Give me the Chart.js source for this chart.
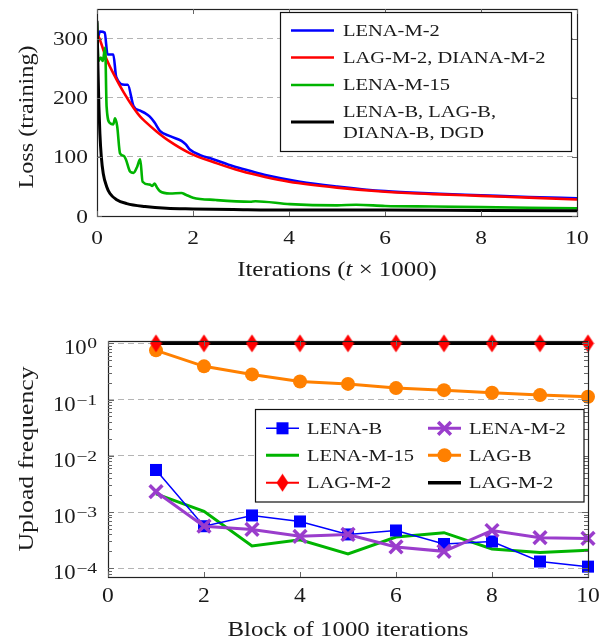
<!DOCTYPE html>
<html>
<head>
<meta charset="utf-8">
<script src="https://cdn.jsdelivr.net/npm/chart.js@4.4.0/dist/chart.umd.min.js"></script>
<style>
  html, body { margin: 0; padding: 0; background: #fff; }
  #lossChart { position: absolute; left: 0; top: 0; }
  #freqChart { position: absolute; left: 0; top: 290px; }
</style>
</head>
<body>
<canvas id="lossChart" width="602" height="290"></canvas>
<canvas id="freqChart" width="602" height="351"></canvas>
<script>
// ---------- top chart: training loss ----------
const lossTicksX = [0, 2, 4, 6, 8, 10];
const lossTicksY = [0, 100, 200, 300];

const lossLabels = ['LENA-M-2', 'LAG-M-2, DIANA-M-2', 'LENA-M-15', 'LENA-B, LAG-B,\nDIANA-B, DGD'];

const lenaM2T = [0.02, 0.06, 0.16, 0.22, 0.34, 0.40, 0.58, 0.64, 0.76, 0.90, 1.0, 1.10, 1.20, 1.31, 1.52, 1.76, 1.85, 1.94, 2.15, 2.42, 2.84, 3.2, 3.53, 4.23, 5, 6, 7, 8, 9, 10];
const lenaM2V = [300, 312, 310, 273, 273, 235, 222, 222, 186, 178, 174, 168, 158, 144, 135, 127, 121, 112, 103, 96, 84, 76, 69, 58, 50, 42, 38, 35, 32, 30];

const lagM2T = [0.02, 0.06, 0.2, 0.4, 0.55, 0.76, 0.9, 1.0, 1.24, 1.5, 1.94, 2.5, 3.0, 3.5, 4.0, 5, 6, 7, 8, 9, 10];
const lagM2V = [305, 298, 265, 232, 210, 183, 168, 160, 143, 127, 106, 89, 76, 66, 58, 48, 41, 37, 34, 31, 28];

const lenaM15T = [0, 0.03, 0.08, 0.12, 0.17, 0.2, 0.27, 0.34, 0.375, 0.42, 0.48, 0.55, 0.60, 0.69, 0.76, 0.83, 0.90, 0.95, 1.1, 1.15, 1.2, 1.25, 1.31, 1.52, 1.76, 1.85, 2.0, 2.48, 3.19, 3.3, 4.02, 5, 5.4, 6, 7, 8, 9, 10];
const lenaM15V = [327, 262, 268, 262, 285, 185, 157, 155, 165, 152, 106, 102, 96, 75, 73, 82, 96, 58, 53, 51, 55, 48, 42, 38, 39, 36, 31, 27, 24, 25, 20, 18, 19, 17, 16, 15, 14, 13];

const lenaBT = [0, 0.02, 0.04, 0.06, 0.09, 0.13, 0.2, 0.27, 0.4, 0.62, 1.0, 1.45, 2, 2.84, 4, 6, 8, 10];
const lenaBV = [330, 250, 185, 140, 100, 72, 50, 38, 28, 21, 16, 13, 12, 11, 10, 10, 9.5, 9];

// ---------- bottom chart: upload frequency ----------
const blocks = [1, 2, 3, 4, 5, 6, 7, 8, 9, 10];
const freqTicksX = [0, 2, 4, 6, 8, 10];
const freqTicksY = [1e-4, 1e-3, 1e-2, 1e-1, 1];

const freqLabels = ['LENA-B', 'LENA-M-2', 'LENA-M-15', 'LAG-B', 'LAG-M-2', 'LAG-M-2'];
const lenaB = [0.0056, 0.00056, 0.00087, 0.00068, 0.0004, 0.00047, 0.00027, 0.0003, 0.000132, 0.000107];
const lenaM2 = [0.0023, 0.00056, 0.00049, 0.00037, 0.0004, 0.00024, 0.0002, 0.00047, 0.00035, 0.00034];
const lenaM15 = [0.0021, 0.00103, 0.00025, 0.00032, 0.00018, 0.00036, 0.00043, 0.00022, 0.00019, 0.00021];
const lagB = [0.75, 0.39, 0.28, 0.21, 0.19, 0.16, 0.147, 0.132, 0.12, 0.112];
const lagM2 = [1, 1, 1, 1, 1, 1, 1, 1, 1, 1];
const lagM2b = [1, 1, 1, 1, 1, 1, 1, 1, 1, 1];

const FONT = 'Liberation Serif';
const INK = '#1a1a1a';
Chart.defaults.font.family = FONT;

const pairs = (xs, ys) => xs.map((x, i) => ({ x: x, y: ys[i] }));

// tall red diamond marker (pgfplots style)
const diamond = document.createElement('canvas');
diamond.width = 13;
diamond.height = 19;
const dctx = diamond.getContext('2d');
dctx.fillStyle = '#ff0000';
dctx.beginPath();
dctx.moveTo(6.5, 0.5);
dctx.lineTo(12.5, 9.5);
dctx.lineTo(6.5, 18.5);
dctx.lineTo(0.5, 9.5);
dctx.closePath();
dctx.fill();

// text drawn a bit wider than the font, like the stretched TeX figure
function textParts(ctx, parts, x, y, size, align, stretch) {
  ctx.save();
  ctx.fillStyle = INK;
  ctx.textAlign = 'left';
  ctx.textBaseline = 'alphabetic';
  const widths = parts.map(p => {
    ctx.font = (p[1] ? 'italic ' : '') + size + 'px ' + FONT;
    return ctx.measureText(p[0]).width * stretch;
  });
  const total = widths.reduce((s, w) => s + w, 0);
  let x0 = align === 'center' ? x - total / 2 : (align === 'right' ? x - total : x);
  parts.forEach((p, i) => {
    ctx.font = (p[1] ? 'italic ' : '') + size + 'px ' + FONT;
    ctx.save();
    ctx.translate(x0, y);
    ctx.scale(stretch, 1);
    ctx.fillText(p[0], 0, 0);
    ctx.restore();
    x0 += widths[i];
  });
  ctx.restore();
  return total;
}
const text = (ctx, s, x, y, size, align, stretch) => textParts(ctx, [[s, false]], x, y, size, align, stretch);

function drawMarker(ctx, ds, x, y) {
  const st = ds.pointStyle;
  if (!st || ds.pointRadius === 0) return;
  ctx.save();
  if (st instanceof HTMLCanvasElement) {
    ctx.drawImage(st, x - st.width / 2, y - st.height / 2);
  } else if (st === 'rect') {
    const s = ds.pointRadius * Math.SQRT1_2;
    ctx.fillStyle = ds.pointBackgroundColor;
    ctx.fillRect(x - s, y - s, 2 * s, 2 * s);
  } else if (st === 'circle') {
    ctx.fillStyle = ds.pointBackgroundColor;
    ctx.beginPath();
    ctx.arc(x, y, ds.pointRadius, 0, Math.PI * 2);
    ctx.fill();
  } else if (st === 'crossRot') {
    const s = ds.pointRadius * Math.SQRT1_2;
    ctx.strokeStyle = ds.pointBorderColor;
    ctx.lineWidth = ds.pointBorderWidth;
    ctx.beginPath();
    ctx.moveTo(x - s, y - s); ctx.lineTo(x + s, y + s);
    ctx.moveTo(x - s, y + s); ctx.lineTo(x + s, y - s);
    ctx.stroke();
  }
  ctx.restore();
}

function drawFrame(ctx, area) {
  ctx.save();
  ctx.strokeStyle = '#222';
  ctx.lineWidth = 1.2;
  ctx.strokeRect(area.left + 0.5, area.top + 0.5, area.right - area.left, area.bottom - area.top);
  ctx.restore();
}

function tickMark(ctx, x1, y1, x2, y2) {
  ctx.beginPath();
  ctx.moveTo(x1, y1);
  ctx.lineTo(x2, y2);
  ctx.stroke();
}

const noPad = s => { s.paddingLeft = 0; s.paddingRight = 0; s.paddingTop = 0; s.paddingBottom = 0; };

const lossDecor = {
  id: 'lossDecor',
  afterDraw(chart) {
    const ctx = chart.ctx;
    const a = chart.chartArea;
    const sx = chart.scales.x, sy = chart.scales.y;
    drawFrame(ctx, a);

    ctx.save();
    ctx.strokeStyle = '#666';
    ctx.lineWidth = 1;
    lossTicksX.forEach(v => {
      const px = Math.round(sx.getPixelForValue(v)) + 0.5;
      tickMark(ctx, px, a.bottom, px, a.bottom - 5);
      tickMark(ctx, px, a.top, px, a.top + 5);
    });
    lossTicksY.forEach(v => {
      const py = Math.round(sy.getPixelForValue(v)) + 0.5;
      tickMark(ctx, a.left, py, a.left + 5, py);
      tickMark(ctx, a.right, py, a.right - 5, py);
    });
    ctx.restore();

    // tick labels
    lossTicksX.forEach(v => text(ctx, String(v), sx.getPixelForValue(v), a.bottom + 27.5, 19.5, 'center', 1.2));
    lossTicksY.forEach(v => text(ctx, String(v), a.left - 9, sy.getPixelForValue(v) + 6.5, 19.5, 'right', 1.2));

    // legend
    ctx.save();
    ctx.fillStyle = '#fff';
    ctx.fillRect(280.5, 12.5, 291, 139);
    ctx.strokeStyle = '#111';
    ctx.lineWidth = 1.2;
    ctx.strokeRect(280.5, 12.5, 291, 139);
    const rows = [30.5, 57.5, 85, 122];
    chart.data.datasets.forEach((ds, i) => {
      const y = rows[i];
      ctx.strokeStyle = ds.borderColor;
      ctx.lineWidth = ds.borderWidth;
      tickMark(ctx, 291, y, 334, y);
      const lines = ds.label.split('\n');
      if (lines.length === 1) {
        text(ctx, lines[0], 343, y + 5, 16, 'left', 1.28);
      } else {
        text(ctx, lines[0], 343, y - 5, 16, 'left', 1.28);
        text(ctx, lines[1], 343, y + 16, 16, 'left', 1.28);
      }
    });
    ctx.restore();

    // axis titles
    textParts(ctx, [['Iterations (', false], ['t', true], [' \u00d7 1000)', false]], (a.left + a.right) / 2, 276, 22, 'center', 1.13);
    ctx.save();
    ctx.translate(33, 117);
    ctx.rotate(-Math.PI / 2);
    text(ctx, 'Loss (training)', 0, 0, 22, 'center', 1.1);
    ctx.restore();
  }
};

const freqDecor = {
  id: 'freqDecor',
  afterDraw(chart) {
    const ctx = chart.ctx;
    const a = chart.chartArea;
    const sx = chart.scales.x, sy = chart.scales.y;
    drawFrame(ctx, a);

    ctx.save();
    ctx.strokeStyle = '#666';
    ctx.lineWidth = 1;
    freqTicksX.forEach(v => {
      const px = Math.round(sx.getPixelForValue(v)) + 0.5;
      tickMark(ctx, px, a.bottom, px, a.bottom - 5);
      tickMark(ctx, px, a.top, px, a.top + 5);
    });
    freqTicksY.forEach(v => {
      const py = Math.round(sy.getPixelForValue(v)) + 0.5;
      tickMark(ctx, a.left, py, a.left + 6, py);
      tickMark(ctx, a.right, py, a.right - 6, py);
      for (let m = 2; m <= 9; m++) {
        const mv = v * m;
        if (mv > sy.max || v >= 1) continue;
        const my = Math.round(sy.getPixelForValue(mv)) + 0.5;
        tickMark(ctx, a.left, my, a.left + 4, my);
        tickMark(ctx, a.right, my, a.right - 4, my);
      }
    });
    for (let m = 8; m <= 9; m++) {
      const mv = 1e-5 * m;
      if (mv < sy.min) continue;
      const my = Math.round(sy.getPixelForValue(mv)) + 0.5;
      tickMark(ctx, a.left, my, a.left + 4, my);
      tickMark(ctx, a.right, my, a.right - 4, my);
    }
    ctx.restore();

    // tick labels: x plain, y as 10^k
    freqTicksX.forEach(v => text(ctx, String(v), sx.getPixelForValue(v), a.bottom + 25, 21, 'center', 1.12));
    freqTicksY.forEach(v => {
      const k = Math.round(Math.log10(v));
      const py = sy.getPixelForValue(v);
      const exp = k === 0 ? '0' : '\u2212' + Math.abs(k);
      const ew = text(ctx, exp, a.left - 11, py + 5, 14.5, 'right', 1.35);
      text(ctx, '10', a.left - 11 - ew - 0.5, py + 11, 21, 'right', 1.08);
    });

    // legend
    ctx.save();
    ctx.fillStyle = '#fff';
    ctx.fillRect(255.5, 409.5 - 290, 328.5, 92.5);
    ctx.strokeStyle = '#111';
    ctx.lineWidth = 1.2;
    ctx.strokeRect(255.5, 409.5 - 290, 328.5, 92.5);
    const rows = [428.3 - 290, 455.3 - 290, 482.7 - 290];
    const cols = [[266, 299, 307], [428, 461, 469]];
    chart.data.datasets.forEach((ds, i) => {
      const y = rows[Math.floor(i / 2)];
      const c = cols[i % 2];
      ctx.strokeStyle = ds.borderColor;
      ctx.lineWidth = ds.borderWidth;
      tickMark(ctx, c[0], y, c[1], y);
      drawMarker(ctx, ds, (c[0] + c[1]) / 2, y);
      text(ctx, ds.label, c[2], y + 5.5, 16, 'left', 1.28);
    });
    ctx.restore();

    // axis titles
    text(ctx, 'Block of 1000 iterations', (a.left + a.right) / 2, 346, 22, 'center', 1.13);
    ctx.save();
    ctx.translate(33, (a.top + a.bottom) / 2);
    ctx.rotate(-Math.PI / 2);
    text(ctx, 'Upload frequency', 0, 0, 22, 'center', 1.17);
    ctx.restore();
  }
};

const lineStyle = (label, xs, ys, color, width, order) => ({
  label: label,
  data: pairs(xs, ys),
  borderColor: color,
  borderWidth: width,
  pointRadius: 0,
  cubicInterpolationMode: 'monotone',
  order: order
});

new Chart(document.getElementById('lossChart'), {
  type: 'line',
  data: {
    datasets: [
      lineStyle(lossLabels[0], lenaM2T, lenaM2V, '#0000ff', 2.6, 4),
      lineStyle(lossLabels[1], lagM2T, lagM2V, '#ff0000', 2.6, 3),
      lineStyle(lossLabels[2], lenaM15T, lenaM15V, '#00b400', 2.6, 2),
      lineStyle(lossLabels[3], lenaBT, lenaBV, '#000000', 3, 1)
    ]
  },
  options: {
    responsive: false,
    animation: false,
    layout: { padding: { top: 9, right: 25, left: 0, bottom: 0 } },
    plugins: { legend: { display: false }, tooltip: { enabled: false } },
    scales: {
      x: {
        type: 'linear', min: 0, max: 10,
        afterBuildTicks: s => { s.ticks = lossTicksX.map(v => ({ value: v })); },
        afterFit: s => { s.height = 74; noPad(s); },
        grid: { display: false },
        border: { display: false },
        ticks: { display: false }
      },
      y: {
        min: 0, max: 350,
        afterBuildTicks: s => { s.ticks = lossTicksY.map(v => ({ value: v })); },
        afterFit: s => { s.width = 97; noPad(s); },
        grid: {
          drawTicks: false,
          color: c => c.tick && c.tick.value === 0 ? 'rgba(0,0,0,0)' : '#b4b4b4',
          lineWidth: 1
        },
        border: { display: false, dash: [6, 4] },
        ticks: { display: false }
      }
    }
  },
  plugins: [lossDecor]
});

new Chart(document.getElementById('freqChart'), {
  type: 'line',
  data: {
    datasets: [
      { label: freqLabels[0], data: pairs(blocks, lenaB), borderColor: '#0000ff', borderWidth: 1.5,
        pointStyle: 'rect', pointRadius: 8.5, pointBackgroundColor: '#0000ff', pointBorderWidth: 0, order: 4, clip: false },
      { label: freqLabels[1], data: pairs(blocks, lenaM2), borderColor: '#9a3dcc', borderWidth: 3,
        pointStyle: 'crossRot', pointRadius: 9, pointBorderColor: '#9a3dcc', pointBorderWidth: 3.5, order: 3, clip: false },
      { label: freqLabels[2], data: pairs(blocks, lenaM15), borderColor: '#00b400', borderWidth: 3,
        pointRadius: 0, order: 5, clip: false },
      { label: freqLabels[3], data: pairs(blocks, lagB), borderColor: '#ff8000', borderWidth: 3,
        pointStyle: 'circle', pointRadius: 7, pointBackgroundColor: '#ff8000', pointBorderWidth: 0, order: 2, clip: false },
      // its line lies under the black one; only the diamonds show
      { label: freqLabels[4], data: pairs(blocks, lagM2), borderColor: '#ff0000', borderWidth: 2, showLine: false,
        pointStyle: diamond, pointRadius: 7, order: 1, clip: false },
      { label: freqLabels[5], data: pairs(blocks, lagM2b), borderColor: '#000000', borderWidth: 3.5,
        pointRadius: 0, order: 6, clip: false }
    ]
  },
  options: {
    responsive: false,
    animation: false,
    layout: { padding: { top: 51, right: 14, left: 0, bottom: 0 } },
    plugins: { legend: { display: false }, tooltip: { enabled: false } },
    scales: {
      x: {
        type: 'linear', min: 0, max: 10,
        afterBuildTicks: s => { s.ticks = freqTicksX.map(v => ({ value: v })); },
        afterFit: s => { s.height = 64; noPad(s); },
        grid: { display: false },
        border: { display: false },
        ticks: { display: false }
      },
      y: {
        type: 'logarithmic', min: 7.2e-5, max: 1.1,
        afterBuildTicks: s => { s.ticks = freqTicksY.map(v => ({ value: v })); },
        afterFit: s => { s.width = 108; noPad(s); },
        grid: { drawTicks: false, color: '#b4b4b4', lineWidth: 1 },
        border: { display: false, dash: [6, 4] },
        ticks: { display: false }
      }
    }
  },
  plugins: [freqDecor]
});
</script>
</body>
</html>
